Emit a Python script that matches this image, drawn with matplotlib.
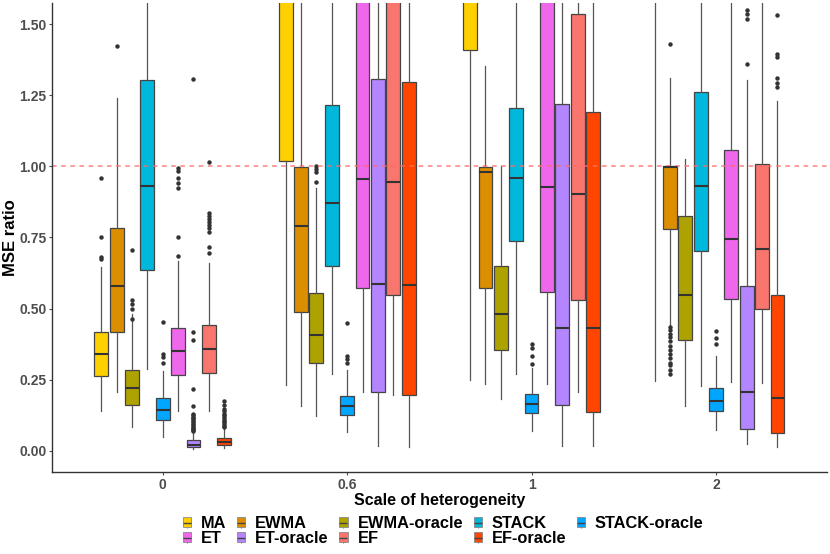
import numpy as np
import matplotlib
matplotlib.use("Agg")
import matplotlib.pyplot as plt
from matplotlib.patches import Patch
from matplotlib.lines import Line2D

plt.rcParams['font.family'] = ['Liberation Sans', 'DejaVu Sans']

# x groups and methods
groups = ['0', '0.6', '1', '2']
methods = ['MA', 'EWMA', 'EWMA-oracle', 'STACK', 'STACK-oracle',
           'ET', 'ET-oracle', 'EF', 'EF-oracle']
colors = ['#FFD000', '#DB8E00', '#AEA200', '#00B8DB', '#00A6FF',
          '#EF67EB', '#B385FF', '#F8766D', '#FF4500']

# box stats per group: [whisker low, Q1, median, Q3, whisker high]
ma = [[0.138, 0.262, 0.341, 0.418, 0.645],
      [0.232, 1.019, 1.80, 2.20, 3.50],
      [0.248, 1.411, 2.00, 2.50, 4.00],
      [0.244, 2.00, 2.50, 3.00, 4.50]]
ewma = [[0.205, 0.416, 0.580, 0.785, 1.241],
        [0.158, 0.489, 0.792, 0.999, 1.90],
        [0.234, 0.574, 0.979, 0.999, 1.355],
        [0.440, 0.781, 0.998, 1.000, 1.311]]
ewma_or = [[0.082, 0.162, 0.220, 0.283, 0.480],
           [0.121, 0.310, 0.406, 0.556, 0.925],
           [0.181, 0.355, 0.480, 0.648, 1.000],
           [0.158, 0.390, 0.547, 0.824, 1.027]]
stack = [[0.287, 0.636, 0.930, 1.303, 1.90],
         [0.269, 0.650, 0.870, 1.217, 1.90],
         [0.269, 0.738, 0.960, 1.206, 1.90],
         [0.226, 0.703, 0.930, 1.263, 1.90]]
stack_or = [[0.047, 0.108, 0.143, 0.185, 0.281],
            [0.064, 0.126, 0.156, 0.193, 0.285],
            [0.070, 0.132, 0.165, 0.200, 0.290],
            [0.074, 0.140, 0.176, 0.219, 0.334]]
et = [[0.138, 0.266, 0.350, 0.433, 0.667],
      [0.205, 0.574, 0.957, 1.80, 2.50],
      [0.234, 0.560, 0.926, 1.70, 2.50],
      [0.240, 0.535, 0.746, 1.057, 1.90]]
et_or = [[0.006, 0.012, 0.020, 0.039, 0.064],
         [0.018, 0.205, 0.587, 1.309, 1.90],
         [0.018, 0.160, 0.433, 1.220, 1.90],
         [0.022, 0.076, 0.206, 0.580, 1.303]]
ef = [[0.140, 0.273, 0.357, 0.443, 0.662],
      [0.197, 0.548, 0.947, 1.80, 2.50],
      [0.205, 0.529, 0.904, 1.536, 2.50],
      [0.237, 0.500, 0.711, 1.007, 1.90]]
ef_or = [[0.008, 0.021, 0.032, 0.043, 0.076],
         [0.014, 0.197, 0.582, 1.297, 1.90],
         [0.018, 0.135, 0.430, 1.191, 1.90],
         [0.012, 0.061, 0.185, 0.546, 1.230]]

# outliers per group
ma_out = [[0.673, 0.681, 0.750, 0.960], [], [], []]
ewma_out = [[1.425], [], [],
            [0.27, 0.285, 0.30, 0.31, 0.325, 0.34, 0.355, 0.37, 0.385, 0.40, 0.41, 0.425, 0.435, 1.429]]
ewma_or_out = [[0.462, 0.500, 0.515, 0.530, 0.706], [0.945, 0.98, 0.99, 1.0], [], []]
stack_out = [[], [], [], []]
stack_or_out = [[0.310, 0.328, 0.340, 0.453], [0.310, 0.322, 0.334, 0.448],
                [0.304, 0.334, 0.360, 0.375], [0.375, 0.396, 0.420]]
et_out = [[0.685, 0.753, 0.925, 0.943, 0.960, 0.984, 0.995], [], [], []]
et_or_out = [[0.068, 0.072, 0.076, 0.080, 0.085, 0.090, 0.095, 0.100, 0.105, 0.110,
              0.115, 0.120, 0.125, 0.130, 0.156, 0.217, 0.390, 0.418, 1.308],
             [], [], [1.361, 1.520, 1.535, 1.550]]
ef_out = [[0.697, 0.718, 0.770, 0.785, 0.795, 0.805, 0.815, 0.825, 0.837, 1.015], [], [], []]
ef_or_out = [[0.082, 0.088, 0.094, 0.100, 0.106, 0.112, 0.118, 0.124, 0.130, 0.140,
              0.145, 0.160, 0.175], [], [], [1.280, 1.295, 1.310, 1.385, 1.397, 1.534]]

all_stats = [ma, ewma, ewma_or, stack, stack_or, et, et_or, ef, ef_or]
all_out = [ma_out, ewma_out, ewma_or_out, stack_out, stack_or_out,
           et_out, et_or_out, ef_out, ef_or_out]

fig = plt.figure(figsize=(8.3, 5.54), dpi=100)
ax = fig.add_axes([0.0627, 0.148, 0.9333, 0.8466])

slot = 0.75 / 9
for i, (name, col) in enumerate(zip(methods, colors)):
    bstats = []
    for g in range(len(groups)):
        lo, q1, med, q3, hi = all_stats[i][g]
        bstats.append(dict(whislo=lo, q1=q1, med=med, q3=q3, whishi=hi,
                           fliers=all_out[i][g]))
    pos = np.arange(len(groups)) + (i - 4) * slot
    ax.bxp(bstats, positions=pos, widths=slot * 0.9, patch_artist=True,
           showcaps=False, manage_ticks=False,
           boxprops=dict(facecolor=col, edgecolor='#444444', linewidth=0.9),
           medianprops=dict(color='#333333', linewidth=1.5),
           whiskerprops=dict(color='#555555', linewidth=0.9),
           flierprops=dict(marker='o', markerfacecolor='#333333',
                           markeredgecolor='none', markersize=3.2))

ax.axhline(1.0, color='#FF6B6B', linestyle=(0, (3, 3)), linewidth=1.1, alpha=0.85)

ax.set_xlim(-0.6, 3.6)
ax.set_ylim(-0.075, 1.575)
ax.set_xticks(np.arange(len(groups)))
ax.set_xticklabels(groups)
ax.set_yticks([0, 0.25, 0.5, 0.75, 1.0, 1.25, 1.5])
ax.set_yticklabels(['0.00', '0.25', '0.50', '0.75', '1.00', '1.25', '1.50'])
ax.tick_params(labelsize=10, colors='#4D4D4D', length=2.5, width=0.8, pad=1.5)
for lab in ax.get_xticklabels() + ax.get_yticklabels():
    lab.set_fontweight('bold')
for s in ['top', 'right']:
    ax.spines[s].set_visible(False)
for s in ['left', 'bottom']:
    ax.spines[s].set_color('#333333')
    ax.spines[s].set_linewidth(1.0)

ax.set_xlabel('Scale of heterogeneity', fontsize=11.5, fontweight='bold', labelpad=1)
ax.set_ylabel('MSE ratio', fontsize=12, fontweight='bold')
ax.yaxis.set_label_coords(-0.0435, 0.5)

# legend keys look like tiny boxplots; row-wise order in 5 columns
handles = []
for c in colors:
    whisk = Line2D([], [], color='#777777', marker='|', markersize=7,
                   markeredgewidth=0.8, linestyle='none')
    box = Patch(facecolor=c, edgecolor='#888888', linewidth=0.6)
    med = Line2D([], [], color='#444444', marker='_', markersize=5.5,
                 markeredgewidth=1.0, linestyle='none')
    handles.append((whisk, box, med))
order = [0, 5, 1, 6, 2, 7, 3, 8, 4]
fig.legend([handles[k] for k in order], [methods[k] for k in order],
           loc='lower center', bbox_to_anchor=(0.534, 0.0), ncol=5,
           frameon=False, prop=dict(size=11.8, weight='bold'),
           handlelength=0.5, handleheight=0.5, handletextpad=0.6,
           columnspacing=0.65, labelspacing=0.0, borderpad=0.0)

fig.savefig('out.png', dpi=100)
